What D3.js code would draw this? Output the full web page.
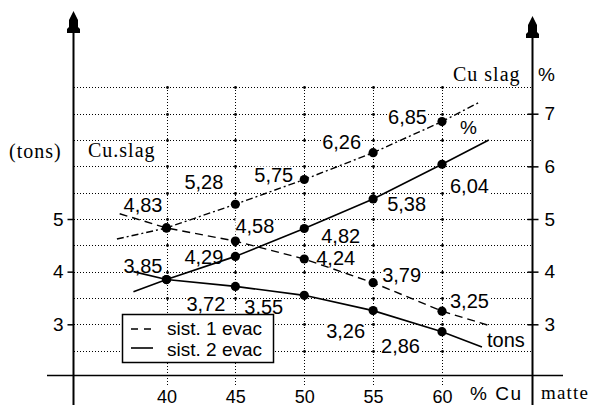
<!DOCTYPE html>
<html>
<head>
<meta charset="utf-8">
<script src="https://cdn.jsdelivr.net/npm/d3@7"></script>
<style>
  html, body { margin: 0; padding: 0; background: #fff; }
  svg { display: block; }
  text { font-family: "Liberation Sans", Arial, sans-serif; fill: #000; }
  .serif { font-family: "Liberation Serif", "Times New Roman", serif; }
</style>
</head>
<body>
<svg id="chart" width="592" height="405"></svg>
<script>
// ---------------- data ----------------
const xCats = [40, 45, 50, 55, 60];
const xTickLabels = ["40", "45", "50", "55", "60"];
const leftTicks = [3, 4, 5];
const rightTicks = [3, 4, 5, 6, 7];
const gridValues = [2.5, 3, 3.5, 4, 4.5, 5, 5.5, 6, 6.5, 7, 7.5];

// sist. 1 evac (dashed)
const s1Pct  = [4.83, 5.28, 5.75, 6.26, 6.85];
const s1Tons = [4.83, 4.58, 4.24, 3.79, 3.25];
// sist. 2 evac (solid)
const s2Pct  = [3.85, 4.29, 4.82, 5.38, 6.04];
const s2Tons = [3.85, 3.72, 3.55, 3.26, 2.86];

// extended line ends [x, value]
const s1PctEnds  = [[36.4, 4.62], [62.8, 7.23]];
const s1TonsEnds = [[36.6, 5.10], [63.5, 2.97]];
const s2PctEnds  = [[37.6, 3.62], [63.4, 6.50]];
const s2TonsEnds = [[37.6, 4.00], [62.9, 2.57]];

const pctLabels = {
  s1: ["4,83", "5,28", "5,75", "6,26", "6,85"],
  s1t: [null, "4,58", "4,24", "3,79", "3,25"],
  s2: ["3,85", "4,29", "4,82", "5,38", "6,04"],
  s2t: [null, "3,72", "3,55", "3,26", "2,86"]
};

// ---------------- layout ----------------
const svg = d3.select("#chart");
const x = d3.scaleLinear().domain([40, 60]).range([166.5, 442]);
const y = d3.scaleLinear().domain([3, 7]).range([324.3, 113.7]);
const leftX = 73.5, rightX = 532.5, baseY = 375.5;
const topGrid = y(7.5);

// label offsets [dx, dy, anchor] relative to the point
const offs = {
  s1:  [[-4, -16, "end"], [-12, -15, "end"], [-11, 2, "end"], [-12, -4, "end"], [-15, 2, "end"]],
  s1t: [null, [0, -8, "start"], [12, 6, "start"], [9, -1, "start"], [8, -3, "start"]],
  s2:  [[-4, -7, "end"], [-12, 8, "end"], [17, 15, "start"], [14, 12, "start"], [8, 29, "start"]],
  s2t: [null, [-10, 25, "end"], [-21, 19, "end"], [-8, 27, "end"], [-22, 21, "end"]]
};

// ---------------- grid ----------------
const grid = svg.append("g").attr("shape-rendering", "crispEdges");
grid.selectAll("line.h").data(gridValues).join("line")
  .attr("x1", leftX).attr("x2", rightX)
  .attr("y1", d => Math.round(y(d)) + 0.5).attr("y2", d => Math.round(y(d)) + 0.5)
  .attr("stroke", "#000").attr("stroke-width", 1).attr("stroke-dasharray", "1,2");
grid.selectAll("line.v").data(xCats).join("line")
  .attr("x1", d => Math.round(x(d)) + 0.5).attr("x2", d => Math.round(x(d)) + 0.5)
  .attr("y1", Math.round(topGrid)).attr("y2", baseY + 10)
  .attr("stroke", "#000").attr("stroke-width", 1).attr("stroke-dasharray", "1,2");
// intersection dots
const inter = [];
xCats.forEach(c => gridValues.forEach(v => inter.push([c, v])));
svg.append("g").selectAll("circle").data(inter).join("circle")
  .attr("cx", d => Math.round(x(d[0])) + 0.5).attr("cy", d => Math.round(y(d[1])) + 0.5)
  .attr("r", 1.4).attr("fill", "#000");

const bgLayer = svg.append("g");
const lineLayer = svg.append("g");
const dotLayer = svg.append("g");
const labelLayer = svg.append("g");

// ---------------- axes ----------------
const axes = svg.append("g");
axes.append("line").attr("x1", leftX).attr("x2", leftX).attr("y1", 30).attr("y2", 405)
  .attr("stroke", "#000").attr("stroke-width", 2);
axes.append("line").attr("x1", rightX).attr("x2", rightX).attr("y1", 35).attr("y2", 405)
  .attr("stroke", "#000").attr("stroke-width", 2);
axes.append("line").attr("x1", 47).attr("x2", 563).attr("y1", baseY).attr("y2", baseY)
  .attr("stroke", "#000").attr("stroke-width", 1.5);

function arrow(cx, top) {
  return `M${cx},${top} L${cx + 4.5},${top + 9} L${cx + 4.5},${top + 16} L${cx + 6.5},${top + 18} L${cx + 6.5},${top + 22} L${cx - 6.5},${top + 22} L${cx - 6.5},${top + 18} L${cx - 4.5},${top + 16} L${cx - 4.5},${top + 9} Z`;
}
axes.append("path").attr("d", arrow(leftX, 11)).attr("fill", "#000");
axes.append("path").attr("d", arrow(rightX, 16)).attr("fill", "#000");

const leftAxis = d3.axisLeft(y).tickValues(leftTicks).tickSize(6).tickPadding(4).tickFormat(d3.format("d"));
const gl = axes.append("g").attr("transform", `translate(${leftX},0)`).call(leftAxis);
gl.select(".domain").remove();
gl.selectAll("line").attr("stroke-width", 1.5);
gl.selectAll("text").attr("font-size", 19).attr("font-family", "Liberation Sans");

const rightAxis = d3.axisRight(y).tickValues(rightTicks).tickSize(6).tickPadding(6).tickFormat(d3.format("d"));
const gr = axes.append("g").attr("transform", `translate(${rightX},0)`).call(rightAxis);
gr.select(".domain").remove();
gr.selectAll("line").attr("x1", -5).attr("stroke-width", 1.5);
gr.selectAll("text").attr("font-size", 19).attr("font-family", "Liberation Sans");

const bottomAxis = d3.axisBottom(x).tickValues(xCats).tickSize(0).tickPadding(0)
  .tickFormat((d, i) => xTickLabels[i]);
const gb = axes.append("g").attr("transform", `translate(0,${baseY})`).call(bottomAxis);
gb.select(".domain").remove();
gb.selectAll("text").attr("font-size", 18).attr("dy", null).attr("y", 27)
  .attr("font-family", "Liberation Sans");

// ---------------- lines ----------------
const line = d3.line().x(d => x(d[0])).y(d => y(d[1]));
function pts(vals, ends) {
  return [ends[0], ...xCats.map((c, i) => [c, vals[i]]), ends[1]];
}
const series = [
  { vals: s1Pct, ends: s1PctEnds, dash: "7,3,2,3", w: 1.4 },
  { vals: s1Tons, ends: s1TonsEnds, dash: "8,5", w: 1.4 },
  { vals: s2Pct, ends: s2PctEnds, dash: null, w: 1.6 },
  { vals: s2Tons, ends: s2TonsEnds, dash: null, w: 1.6 }
];
lineLayer.selectAll("path").data(series).join("path")
  .attr("d", s => line(pts(s.vals, s.ends)))
  .attr("fill", "none").attr("stroke", "#000")
  .attr("stroke-width", s => s.w)
  .attr("stroke-dasharray", s => s.dash);

const dots = [];
[s1Pct, s1Tons, s2Pct, s2Tons].forEach(arr => arr.forEach((v, i) => dots.push([xCats[i], v])));
dotLayer.selectAll("circle").data(dots).join("circle")
  .attr("cx", d => x(d[0])).attr("cy", d => y(d[1])).attr("r", 4.6).attr("fill", "#000");

// ---------------- value labels ----------------
const labelData = [];
[["s1", s1Pct], ["s1t", s1Tons], ["s2", s2Pct], ["s2t", s2Tons]].forEach(([k, arr]) => {
  arr.forEach((v, i) => {
    if (pctLabels[k][i] && offs[k][i]) {
      const o = offs[k][i];
      labelData.push({ t: pctLabels[k][i], x: x(xCats[i]) + o[0], y: y(v) + o[1], a: o[2] });
    }
  });
});
const lbls = labelLayer.selectAll("text.v").data(labelData).join("text")
  .attr("x", d => d.x).attr("y", d => d.y).attr("text-anchor", d => d.a)
  .attr("font-size", 20).text(d => d.t);
lbls.each(function () {
  const b = this.getBBox();
  bgLayer.append("rect").attr("x", b.x).attr("y", b.y + 3).attr("width", b.width).attr("height", b.height - 6)
    .attr("fill", "#fff");
});

// ---------------- other texts ----------------
labelLayer.append("text").attr("class", "serif").attr("x", 9).attr("y", 158)
  .attr("font-size", 20).attr("letter-spacing", 1).text("(tons)");
labelLayer.append("text").attr("class", "serif").attr("x", 88).attr("y", 157)
  .attr("font-size", 20).attr("letter-spacing", 1).text("Cu.slag");
labelLayer.append("text").attr("class", "serif").attr("x", 453).attr("y", 81)
  .attr("font-size", 20).attr("letter-spacing", 1).text("Cu slag");
labelLayer.append("text").attr("x", 538).attr("y", 81).attr("font-size", 19).text("%");
labelLayer.append("text").attr("x", 460).attr("y", 134).attr("font-size", 19).text("%");
labelLayer.append("text").attr("x", 487).attr("y", 347).attr("font-size", 20).text("tons");
labelLayer.append("text").attr("x", 470).attr("y", 400).attr("font-size", 19).attr("letter-spacing", 1.5).text("% Cu");
labelLayer.append("text").attr("class", "serif").attr("x", 541).attr("y", 399).attr("font-size", 19).attr("letter-spacing", 1.2).text("matte");

// ---------------- legend ----------------
const lg = svg.append("g");
lg.append("rect").attr("x", 122.5).attr("y", 314.5).attr("width", 151).attr("height", 48)
  .attr("fill", "#fff").attr("stroke", "#000").attr("stroke-width", 1.5);
lg.append("line").attr("x1", 131).attr("x2", 155).attr("y1", 329).attr("y2", 329)
  .attr("stroke", "#000").attr("stroke-width", 1.4).attr("stroke-dasharray", "7,6");
lg.append("line").attr("x1", 131).attr("x2", 153).attr("y1", 348).attr("y2", 348)
  .attr("stroke", "#000").attr("stroke-width", 1.6);
lg.append("text").attr("x", 167).attr("y", 335).attr("font-size", 19).text("sist. 1 evac");
lg.append("text").attr("x", 167).attr("y", 356).attr("font-size", 19).text("sist. 2 evac");
</script>
</body>
</html>
